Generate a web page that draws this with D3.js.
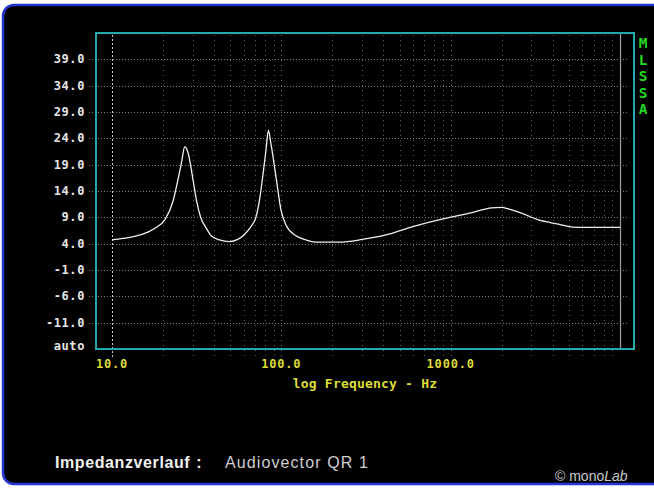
<!DOCTYPE html>
<html><head><meta charset="utf-8">
<script src="https://cdn.jsdelivr.net/npm/d3@7"></script>
<style>
html,body{margin:0;padding:0;background:#fff;}
svg{display:block;}
</style></head>
<body>
<svg id="c" width="654" height="489"></svg>
<script>
// ---- data ----
const freqs = [10, 11.6, 14, 16.3, 18.3, 20.5, 22.9, 24.5, 25.7, 26.9, 28.1, 30.1, 31.5, 33.3, 36.1, 38.5, 43.2, 49.4, 55.3,
  60.7, 66, 70.9, 74.5, 77.6, 81, 83.9, 86.8, 93, 99.5, 106.6, 122, 140, 159, 219, 300, 431, 591, 929, 1334, 1745, 2000,
  2190, 2620, 3305, 4330, 5080, 6000, 10000];
const impedance = [4.7, 5.0, 5.5, 6.2, 7.1, 8.5, 12.0, 16.1, 19.3, 22.4, 21.3, 16.1, 12.3, 9.1, 6.9, 5.5, 4.7, 4.4, 4.8,
  5.8, 7.2, 9.1, 12.5, 16.7, 21.5, 25.5, 23.0, 16.7, 10.4, 7.5, 5.5, 4.7, 4.3, 4.3, 4.8, 5.8, 7.2, 8.8, 9.9, 10.8, 10.9,
  10.6, 9.8, 8.5, 7.7, 7.2, 7.1, 7.1];
const yTicks = [39, 34, 29, 24, 19, 14, 9, 4, -1, -6, -11];
const yTickLabels = ["39.0","34.0","29.0","24.0","19.0","14.0","9.0","4.0","-1.0","-6.0","-11.0"];
const yBottomLabel = "auto";
const xMajor = [10, 100, 1000];
const xMajorLabels = ["10.0", "100.0", "1000.0"];
const xMinor = [20,30,40,50,60,70,80,90,200,300,400,500,600,700,800,900,2000,3000,4000,5000,6000,7000,8000,9000];
const xEnd = 10000;
const xTitle = "log Frequency - Hz";
const sideLabel = ["M","L","S","S","A"];
const captionBold = "Impedanzverlauf";
const captionText = "Audiovector QR 1";

// ---- layout ----
const svg = d3.select("#c");
const box = {l: 96, t: 33, r: 634, b: 349};
const x = d3.scaleLog().domain([10, 10000]).range([112, 620]);
const y = d3.scaleLinear().domain([-16, 44]).range([box.b, box.t]);

// frame
svg.append("rect").attr("x", 3).attr("y", 5).attr("width", 700).attr("height", 479)
  .attr("rx", 11).attr("fill", "#000").attr("stroke", "#2536d4").attr("stroke-width", 2.5);

const mono = "'DejaVu Sans Mono', 'Liberation Mono', monospace";

// vertical grid
const g = svg.append("g");
g.selectAll("line.vmin").data(xMinor).join("line")
  .attr("x1", d => Math.round(x(d)) + 0.5).attr("x2", d => Math.round(x(d)) + 0.5)
  .attr("y1", box.t + 2).attr("y2", box.b + 8)
  .attr("stroke", "#5e5e5e").attr("stroke-width", 1).attr("stroke-dasharray", "1,4");
g.selectAll("line.vmaj").data(xMajor).join("line")
  .attr("x1", d => Math.round(x(d)) + 0.5).attr("x2", d => Math.round(x(d)) + 0.5)
  .attr("y1", box.t + 2).attr("y2", box.b + 10)
  .attr("stroke", (d, i) => i === 0 ? "#d0d0d0" : "#747474").attr("stroke-width", 1)
  .attr("stroke-dasharray", (d, i) => i === 0 ? "2,2" : "1,4");

// horizontal grid
g.selectAll("line.h").data(yTicks).join("line")
  .attr("x1", 89).attr("x2", 629)
  .attr("y1", d => Math.round(y(d)) + 0.5).attr("y2", d => Math.round(y(d)) + 0.5)
  .attr("stroke", "#7c7c7c").attr("stroke-width", 1).attr("stroke-dasharray", "1,2");

// end line (10 kHz)
svg.append("line").attr("x1", Math.round(x(xEnd)) + 0.5).attr("x2", Math.round(x(xEnd)) + 0.5)
  .attr("y1", box.t + 1).attr("y2", box.b).attr("stroke", "#a0a0a0").attr("stroke-width", 1.2);

// plot box
svg.append("rect").attr("x", box.l).attr("y", box.t).attr("width", box.r - box.l).attr("height", box.b - box.t)
  .attr("fill", "none").attr("stroke", "#23a9ab").attr("stroke-width", 2);

// y labels
svg.selectAll("text.yl").data(yTicks).join("text")
  .attr("x", 85).attr("y", d => y(d) + 4)
  .attr("text-anchor", "end").attr("fill", "#e6e6e6")
  .attr("font-family", mono).attr("font-weight", "bold").attr("font-size", 12).attr("letter-spacing", 0.6)
  .text((d, i) => yTickLabels[i]);
svg.append("text").attr("x", 85).attr("y", y(-16) + 1)
  .attr("text-anchor", "end").attr("fill", "#e6e6e6")
  .attr("font-family", mono).attr("font-weight", "bold").attr("font-size", 12).attr("letter-spacing", 0.6)
  .text(yBottomLabel);

// x labels
svg.selectAll("text.xl").data(xMajor).join("text")
  .attr("x", d => x(d)).attr("y", 368)
  .attr("text-anchor", "middle").attr("fill", "#dcdc34")
  .attr("font-family", mono).attr("font-weight", "bold").attr("font-size", 12).attr("letter-spacing", 0.8)
  .text((d, i) => xMajorLabels[i]);
svg.append("text").attr("x", 365).attr("y", 388)
  .attr("text-anchor", "middle").attr("fill", "#dcdc34")
  .attr("font-family", mono).attr("font-weight", "bold").attr("font-size", 13).attr("letter-spacing", 0.2)
  .text(xTitle);

// side label
svg.selectAll("text.side").data(sideLabel).join("text")
  .attr("x", 643).attr("y", (d, i) => 48 + i * 16.6)
  .attr("text-anchor", "middle").attr("fill", "#22d822")
  .attr("font-family", mono).attr("font-weight", "bold").attr("font-size", 14.5)
  .text(d => d);

// curve
const pts = freqs.map((f, i) => [f, impedance[i]]);
svg.append("path").datum(pts)
  .attr("d", d3.line().x(d => x(d[0])).y(d => y(d[1])).curve(d3.curveMonotoneX))
  .attr("fill", "none").attr("stroke", "#f0f0f0").attr("stroke-width", 1.3);

// captions
const sans = "'Liberation Sans', Arial, sans-serif";
const cb = svg.append("text").attr("x", 55).attr("y", 468).attr("fill", "#f2f2f2")
  .attr("font-family", sans).attr("font-weight", "bold").attr("font-size", 16).attr("letter-spacing", 0.6);
cb.append("tspan").text(captionBold);
cb.append("tspan").attr("dx", 6).text(":");
svg.append("text").attr("x", 225).attr("y", 468).attr("fill", "#cfcfcf")
  .attr("font-family", sans).attr("font-size", 16).attr("letter-spacing", 1.1)
  .text(captionText);
const cp = svg.append("text").attr("x", 555).attr("y", 481).attr("fill", "#c8c8c8")
  .attr("font-family", sans).attr("font-size", 14);
cp.append("tspan").text("© mono");
cp.append("tspan").attr("font-style", "italic").text("Lab");
</script>
</body></html>
